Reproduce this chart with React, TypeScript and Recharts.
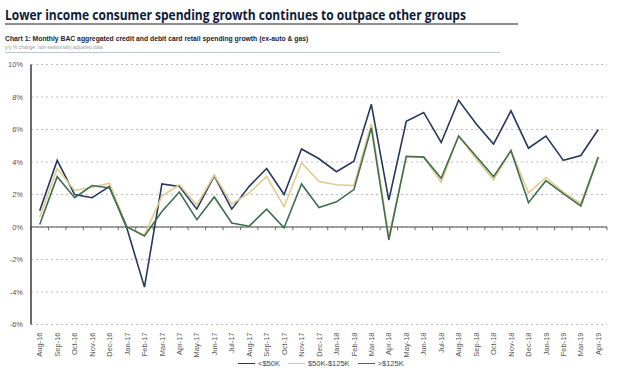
import { LineChart, Line, XAxis, YAxis, CartesianGrid, ReferenceLine } from 'recharts';

// Monthly y/y % change, Aug-16 .. Apr-19
const MONTHS = [
  'Aug-16', 'Sep-16', 'Oct-16', 'Nov-16', 'Dec-16', 'Jan-17', 'Feb-17', 'Mar-17', 'Apr-17',
  'May-17', 'Jun-17', 'Jul-17', 'Aug-17', 'Sep-17', 'Oct-17', 'Nov-17', 'Dec-17', 'Jan-18',
  'Feb-18', 'Mar-18', 'Apr-18', 'May-18', 'Jun-18', 'Jul-18', 'Aug-18', 'Sep-18', 'Oct-18',
  'Nov-18', 'Dec-18', 'Jan-19', 'Feb-19', 'Mar-19', 'Apr-19',
];

const UNDER_50K = [
  1.0, 4.1, 2.0, 1.8, 2.5, -0.1, -3.7, 2.65, 2.5, 1.1, 3.15, 1.1, 2.5, 3.6, 2.0, 4.8, 4.2,
  3.4, 4.05, 7.55, 1.65, 6.5, 7.05, 5.2, 7.8, 6.35, 5.1, 7.15, 4.85, 5.6, 4.1, 4.4, 6.0,
];

const MID_50K_125K = [
  0.6, 3.6, 2.25, 2.45, 2.7, 0.0, -0.5, 1.9, 2.6, 1.35, 3.2, 1.4, 2.1, 3.1, 1.25, 3.95, 2.8,
  2.6, 2.55, 6.35, -0.6, 4.3, 4.3, 2.75, 5.6, 4.2, 2.9, 4.7, 2.1, 3.05, 2.15, 1.45, 4.3,
];

const OVER_125K = [
  0.15, 3.1, 1.8, 2.55, 2.4, 0.0, -0.55, 0.95, 2.15, 0.45, 1.85, 0.25, 0.05, 1.1, -0.05, 2.65,
  1.2, 1.55, 2.3, 6.1, -0.8, 4.35, 4.3, 3.0, 5.6, 4.35, 3.1, 4.7, 1.5, 2.85, 2.05, 1.3, 4.3,
];

const Y_TICKS = [-6, -4, -2, 0, 2, 4, 6, 8, 10];

const NAVY = '#26395a';
const TAN = '#e2cb8f';
const GREEN = '#3f6f4e';
const NARROW = '"Liberation Sans Narrow", "Arial Narrow", sans-serif';

const data = MONTHS.map((m, i) => ({
  idx: i,
  month: m,
  under50: UNDER_50K[i],
  mid: MID_50K_125K[i],
  over125: OVER_125K[i],
}));

// category boundaries for the little tick marks on the zero line
const boundaries = [-0.5, ...MONTHS.map((_, i) => i + 0.5)];

function MonthTick({ x, y, payload }: { x: number; y: number; payload: { value: number } }) {
  return (
    <text
      x={x}
      y={y}
      dy="0.35em"
      transform={`rotate(-90 ${x} ${y})`}
      textAnchor="end"
      fontSize={7.5}
      fontFamily={NARROW}
      fill="#555"
    >
      {MONTHS[payload.value]}
    </text>
  );
}

const LEGEND = [
  { label: '<$50K', color: NAVY },
  { label: '$50K-$125K', color: TAN },
  { label: '>$125K', color: GREEN },
];

export default function App() {
  return (
    <div
      style={{
        position: 'absolute',
        left: 0,
        top: 0,
        width: 630,
        height: 377,
        background: '#fff',
        overflow: 'hidden',
      }}
    >
      {/* Title */}
      <div
        style={{
          position: 'absolute',
          left: 5,
          top: 4,
          fontFamily: '"Open Sans", sans-serif',
          fontWeight: 700,
          fontSize: 15,
          color: '#0d1b3a',
          whiteSpace: 'nowrap',
          transform: 'scaleX(0.8)',
          transformOrigin: 'left top',
        }}
      >
        Lower income consumer spending growth continues to outpace other groups
      </div>
      <div style={{ position: 'absolute', left: 5, top: 23, width: 513, height: 2, background: '#8e8e8e' }} />

      <div
        style={{
          position: 'absolute',
          left: 5,
          top: 35,
          fontFamily: NARROW,
          fontWeight: 700,
          fontSize: 6.8,
          color: '#1d2433',
          whiteSpace: 'nowrap',
        }}
      >
        Chart 1: Monthly BAC aggregated credit and debit card retail spending growth (ex-auto &amp; gas)
      </div>
      <div
        style={{
          position: 'absolute',
          left: 5,
          top: 44,
          fontFamily: NARROW,
          fontSize: 5,
          color: '#9a9a9a',
          whiteSpace: 'nowrap',
        }}
      >
        y/y % change, non-seasonally adjusted data
      </div>
      <div style={{ position: 'absolute', left: 5, top: 52, width: 495, height: 1, background: '#b9c8d4' }} />

      <LineChart
        width={630}
        height={377}
        data={data}
        margin={{ top: 64.5, right: 23, bottom: 22.5, left: 0 }}
        style={{ position: 'absolute', left: 0, top: 0 }}
      >
        <CartesianGrid vertical={false} strokeDasharray="2 3" stroke="#bdbdbd" />
        <XAxis
          dataKey="idx"
          type="number"
          domain={[-0.5, 32.5]}
          ticks={MONTHS.map((_, i) => i)}
          interval={0}
          axisLine={false}
          tickLine={false}
          height={30}
          tick={MonthTick}
        />
        <YAxis
          domain={[-6, 10]}
          ticks={Y_TICKS}
          interval={0}
          width={31}
          tickFormatter={(v: number) => `${v}%`}
          tick={{ fontSize: 7.5, fill: '#555', fontFamily: NARROW }}
          axisLine={{ stroke: '#3a3a3a', strokeWidth: 1.5 }}
          tickLine={false}
        />
        <ReferenceLine y={0} stroke="#4a4a4a" strokeWidth={1.2} />
        {boundaries.map((b) => (
          <ReferenceLine
            key={b}
            segment={[
              { x: b, y: 0 },
              { x: b, y: -0.2 },
            ]}
            stroke="#4a4a4a"
            strokeWidth={0.8}
          />
        ))}
        <Line dataKey="under50" stroke={NAVY} strokeWidth={1.6} dot={false} isAnimationActive={false} />
        <Line dataKey="mid" stroke={TAN} strokeWidth={1.6} dot={false} isAnimationActive={false} />
        <Line dataKey="over125" stroke={GREEN} strokeWidth={1.6} dot={false} isAnimationActive={false} />
      </LineChart>

      {/* Legend */}
      <div
        style={{
          position: 'absolute',
          left: 238,
          top: 359,
          display: 'flex',
          alignItems: 'center',
          gap: 8,
          fontFamily: NARROW,
          fontSize: 7.5,
          color: '#444',
        }}
      >
        {LEGEND.map((l) => (
          <div key={l.label} style={{ display: 'flex', alignItems: 'center', gap: 3 }}>
            <span style={{ display: 'inline-block', width: 17, height: 1.6, background: l.color }} />
            <span>{l.label}</span>
          </div>
        ))}
      </div>
    </div>
  );
}
